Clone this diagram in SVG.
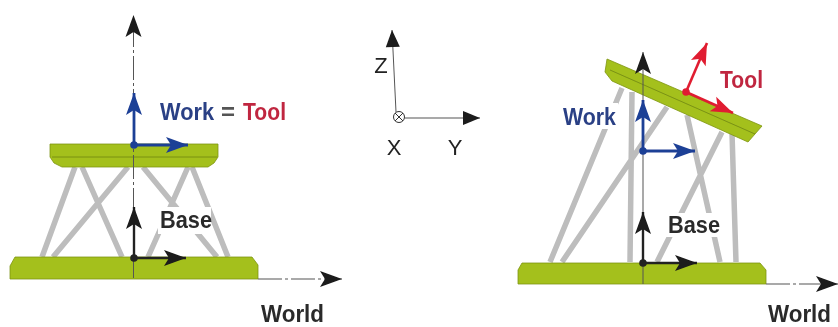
<svg xmlns="http://www.w3.org/2000/svg" width="838" height="327" viewBox="0 0 838 327">
<style>
.strut{stroke:#bdbdbd;stroke-width:5.500;fill:none}
.plate{fill:#a4c01c;stroke:#7d9412;stroke-width:.8}
.seam{stroke:#6f8512;stroke-width:.8;fill:none}
.k{stroke:#222;stroke-width:2.400;fill:none}
.b{stroke:#1f3f96;stroke-width:2.800;fill:none}
.r{stroke:#e01f30;stroke-width:2.600;fill:none}
.axis{stroke:#555;stroke-width:1;fill:none}
.lbl{font-family:"Liberation Sans",Arial,sans-serif;font-weight:bold;font-size:24px}
.xyz{font-family:"Liberation Sans",Arial,sans-serif;font-size:22px;fill:#222;text-anchor:middle}
</style>
<defs>
<filter id="soft" x="-5%" y="-5%" width="110%" height="110%"><feGaussianBlur stdDeviation="0.5"/></filter>
<marker id="hk" markerUnits="userSpaceOnUse" markerWidth="28" markerHeight="20" refX="24" refY="10" orient="auto"><path d="M2,2 L24,10 L2,18 L7,10 Z" fill="#1a1a1a"/></marker>
<marker id="hb" markerUnits="userSpaceOnUse" markerWidth="28" markerHeight="20" refX="24" refY="10" orient="auto"><path d="M2,2 L24,10 L2,18 L7,10 Z" fill="#1f3f96"/></marker>
<marker id="hr" markerUnits="userSpaceOnUse" markerWidth="28" markerHeight="20" refX="24" refY="10" orient="auto"><path d="M2,2 L24,10 L2,18 L7,10 Z" fill="#e01f30"/></marker>
<marker id="hs" markerUnits="userSpaceOnUse" markerWidth="20" markerHeight="18" refX="18" refY="9" orient="auto"><path d="M1,2 L18,9 L1,16 Z" fill="#1a1a1a"/></marker>
</defs>
<rect width="838" height="327" fill="#fff"/>
<g filter="url(#soft)">
<g id="left-platform">
<path class="strut" d="M42,257 L75,167 M53,257 L128,167 M82,167 L122,257 M148,257 L188,167 M143,167 L217,257 M192,167 L228,257"/>
<rect x="158" y="207" width="53" height="27" fill="#fff"/>
<path class="plate" d="M50,144 H218 V157 L214,163 L208,167 H62 L54,163 L50,157 Z"/>
<path class="seam" d="M52,157 H217"/>
<path class="plate" d="M15,257 H252 L258,265 V279 H10 V266 Z"/>
</g>
<g id="right-platform">
<path class="strut" d="M550,262 L622,88 M630,262 L632,92 M562,262 L667,107 M657,262 L722,132 M687,115 L720,262 M732,133 L736,262"/>
<rect x="560" y="103" width="58" height="26" fill="#fff"/>
<rect x="666" y="213" width="54" height="24" fill="#fff"/>
<path class="plate" d="M607,59 L762,126 L748,142 L612,81 L605,72 Z"/>
<path class="seam" d="M610,70 L755,134"/>
<path class="plate" d="M522,263 H760 L766,270 V284 H518 V270 Z"/>
</g>
<g id="connectors">
<path class="axis" stroke-dasharray="24 3 3 3" d="M133.500,278 V15" marker-end="url(#hk)"/>
<path class="axis" stroke-dasharray="24 3 3 3" d="M258,279 H342" marker-end="url(#hk)"/>
<path class="k" d="M134,258 V207" marker-end="url(#hk)"/>
<path class="k" d="M134,258 H186" marker-end="url(#hk)"/>
<path class="b" d="M134,145 V93" marker-end="url(#hb)"/>
<path class="b" d="M134,145 H188" marker-end="url(#hb)"/>
<path class="axis" d="M643,284 V52" marker-end="url(#hk)"/>
<path class="axis" stroke-dasharray="24 3 3 3" d="M766,284 H838" marker-end="url(#hk)"/>
<path class="k" d="M643,263 V212" marker-end="url(#hk)"/>
<path class="k" d="M643,263 H697" marker-end="url(#hk)"/>
<path class="b" d="M643,151 V100" marker-end="url(#hb)"/>
<path class="b" d="M643,151 H695" marker-end="url(#hb)"/>
<path class="r" d="M686,92 L707,43" marker-end="url(#hr)"/>
<path class="r" d="M686,92 L733,113" marker-end="url(#hr)"/>
<path class="axis" stroke-width="1.500" d="M396,112 L392,30" marker-end="url(#hs)"/>
<path class="axis" stroke-width="1.500" d="M405,118 H480" marker-end="url(#hs)"/>
</g>
<g id="origins">
<circle cx="134" cy="145" r="3.800" fill="#1f3f96"/>
<circle cx="134" cy="258" r="3.800" fill="#222"/>
<circle cx="643" cy="151" r="3.800" fill="#1f3f96"/>
<circle cx="643" cy="263" r="3.800" fill="#222"/>
<circle cx="686" cy="92" r="3.800" fill="#e01f30"/>
<g id="x-symbol" fill="none" stroke="#333" stroke-width="1"><circle cx="399" cy="117" r="5.500"/><path d="M395,113 L403,121 M403,113 L395,121"/></g>
</g>
<g id="labels">
<text class="lbl" x="160" y="120" fill="#2a4085" textLength="54" lengthAdjust="spacingAndGlyphs">Work</text>
<text class="lbl" x="221" y="120" fill="#555" textLength="14" lengthAdjust="spacingAndGlyphs">=</text>
<text class="lbl" x="243" y="120" fill="#c02840" textLength="43" lengthAdjust="spacingAndGlyphs">Tool</text>
<text class="lbl" x="160" y="228" fill="#2a2a2a" textLength="52" lengthAdjust="spacingAndGlyphs">Base</text>
<text class="lbl" x="261" y="322" fill="#2a2a2a" textLength="63" lengthAdjust="spacingAndGlyphs">World</text>
<text class="lbl" x="563" y="125" fill="#2a4085" textLength="53" lengthAdjust="spacingAndGlyphs">Work</text>
<text class="lbl" x="720" y="88" fill="#c02840" textLength="43" lengthAdjust="spacingAndGlyphs">Tool</text>
<text class="lbl" x="668" y="233" fill="#2a2a2a" textLength="52" lengthAdjust="spacingAndGlyphs">Base</text>
<text class="lbl" x="768" y="322" fill="#2a2a2a" textLength="63" lengthAdjust="spacingAndGlyphs">World</text>
<text class="xyz" x="381" y="73">Z</text>
<text class="xyz" x="394" y="155">X</text>
<text class="xyz" x="455" y="155">Y</text>
</g>
</g>
</svg>
